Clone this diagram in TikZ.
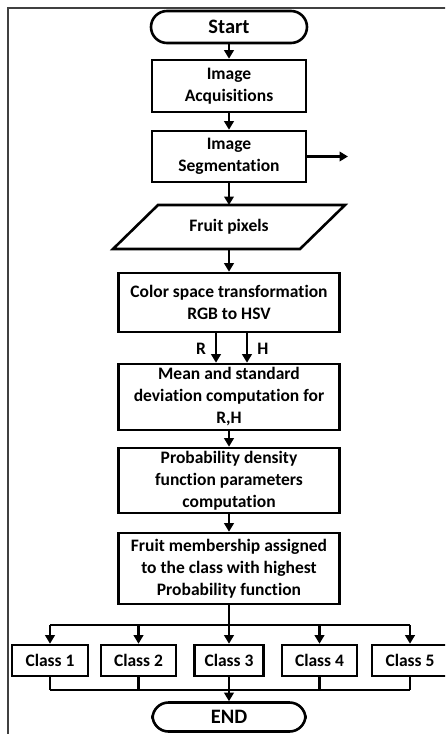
\documentclass[tikz,border=0pt]{standalone}
\usepackage{fontspec}
\setmainfont{Carlito}[Ligatures=NoCommon]
\usetikzlibrary{arrows.meta}
\begin{document}
\begin{tikzpicture}[x=1pt,y=-1pt,
  box/.style={draw, line width=2.6pt, fill=white, align=center, inner sep=0pt,
    font=\fontsize{17.5}{22}\selectfont\bfseries},
  term/.style={box, rounded corners=16pt, font=\fontsize{20.5}{22}\selectfont\bfseries},
  cls/.style={box, minimum height=31pt},
  arr/.style={line width=2.2pt, -{Triangle[length=8.5pt,width=9.5pt]}},
  ln/.style={line width=2.2pt},
  lab/.style={font=\fontsize{17.5}{18}\selectfont\bfseries}]
\useasboundingbox (0,0) rectangle (445,734);
\begin{scope}
\clip (0,0) rectangle (445,734);
\draw[line width=1.3pt, black!75] (8,740) -- (8,8) -- (450,8);

\node[term, minimum width=156pt, minimum height=32pt] (start) at (229,27) {Start};
\node[box, minimum width=154pt, minimum height=52pt] (acq) at (229,86) {Image\\Acquisitions};
\node[box, minimum width=154pt, minimum height=51pt] (seg) at (229,156.5) {Image\\Segmentation};
\coordinate (segout) at (348,156.5);

\draw[line width=2.6pt, line join=miter] (158,205) -- (345,205) -- (300,249) -- (113,249) -- cycle;
\node[font=\fontsize{17.5}{22}\selectfont\bfseries] (fp) at (229,227) {Fruit pixels};
\coordinate (fptop) at (229,205);
\coordinate (fpbot) at (229,249);

\node[box, minimum width=221pt, minimum height=59pt] (col) at (229,302.5) {Color space transformation\\RGB to HSV};
\node[box, minimum width=221pt, minimum height=66pt] (mean) at (229,397) {Mean and standard\\deviation computation for\\R,H};
\node[box, minimum width=221pt, minimum height=65pt] (prob) at (229,480.5) {Probability density\\function parameters\\computation};
\node[box, minimum width=221pt, minimum height=71pt] (memb) at (229,568.5) {Fruit membership assigned\\to the class with highest\\Probability function};

\node[cls, minimum width=76pt] (c1) at (50,660.5) {Class 1};
\node[cls, minimum width=75pt] (c2) at (138.5,660.5) {Class 2};
\node[cls, minimum width=69pt] (c3) at (229,660.5) {Class 3};
\node[cls, minimum width=75pt] (c4) at (319.5,660.5) {Class 4};
\node[cls, minimum width=76pt] (c5) at (410,660.5) {Class 5};

\node[term, minimum width=153pt, minimum height=29pt] (end) at (229,717) {END};

\draw[arr] (start) -- (acq);
\draw[arr] (acq) -- (seg);
\draw[arr] (seg.east) -- (segout);
\draw[arr] (seg) -- (fptop);
\draw[arr] (fpbot) -- (col);
\draw[arr] ([xshift=-13pt]col.south) -- ([xshift=-13pt]mean.north);
\draw[arr] ([xshift=18pt]col.south) -- ([xshift=18pt]mean.north);
\node[lab] (lr) at (201,349) {R};
\node[lab] (lh) at (263,349) {H};
\draw[arr] (mean) -- (prob);
\draw[arr] (prob) -- (memb);

\coordinate (bus) at (229,625);
\draw[ln] (memb.south) -- (bus);
\draw[ln] (c1.north |- bus) -- (c5.north |- bus);
\foreach \c in {c1,c2,c3,c4,c5} \draw[arr] (\c.north |- bus) -- (\c.north);
\coordinate (bus2) at (229,690);
\foreach \c in {c1,c2,c3,c4,c5} \draw[ln] (\c.south) -- (\c.south |- bus2);
\draw[ln] (c1.south |- bus2) -- (c5.south |- bus2);
\draw[arr] (c3.south) -- (end);
\end{scope}
\end{tikzpicture}
\end{document}
